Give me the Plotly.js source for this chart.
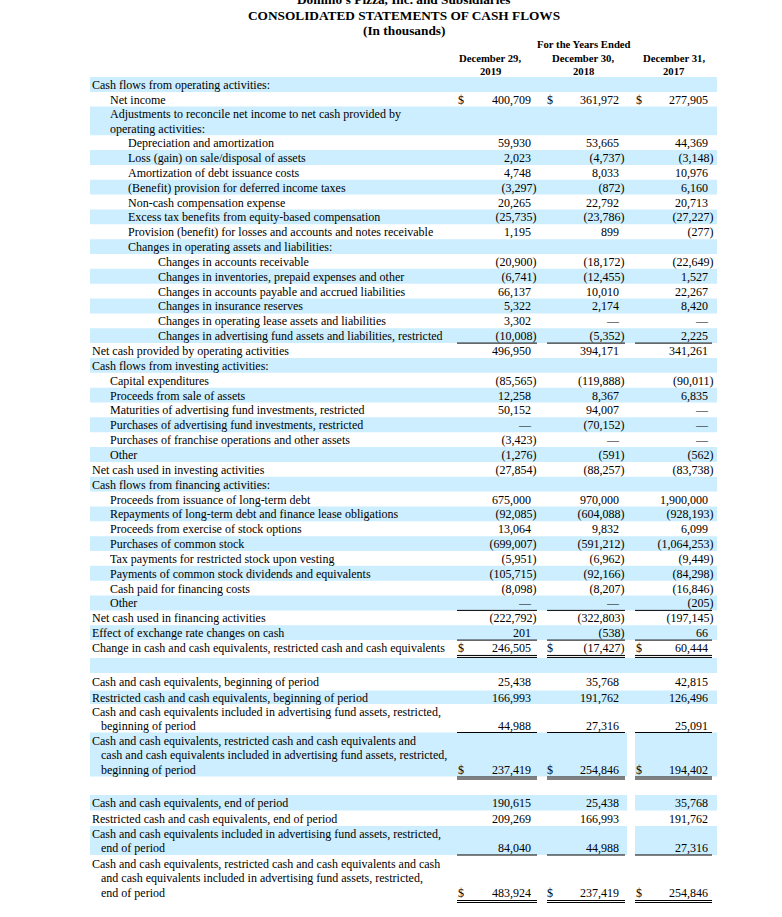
<!DOCTYPE html>
<html>
<head>
<meta charset="utf-8">
<script src="https://cdn.plot.ly/plotly-3.0.1.min.js"></script>
<style>html,body{margin:0;padding:0;background:#fff;}#chart{width:782px;height:917px;}</style>
</head>
<body>
<div id="chart"></div>
<script>
// ---------------- DATA ----------------
const companyLine = "Domino's Pizza, Inc. and Subsidiaries";
const titleText = "CONSOLIDATED STATEMENTS OF CASH FLOWS";
const unitsText = "(In thousands)";
const periodHeader = "For the Years Ended";
const headerMonth = ["December 29,", "December 30,", "December 31,"];
const headerYear = ["2019", "2018", "2017"];

const rowLabels = [
  ["Cash flows from operating activities:"],
  ["Net income"],
  ["Adjustments to reconcile net income to net cash provided by", "operating activities:"],
  ["Depreciation and amortization"],
  ["Loss (gain) on sale/disposal of assets"],
  ["Amortization of debt issuance costs"],
  ["(Benefit) provision for deferred income taxes"],
  ["Non-cash compensation expense"],
  ["Excess tax benefits from equity-based compensation"],
  ["Provision (benefit) for losses and accounts and notes receivable"],
  ["Changes in operating assets and liabilities:"],
  ["Changes in accounts receivable"],
  ["Changes in inventories, prepaid expenses and other"],
  ["Changes in accounts payable and accrued liabilities"],
  ["Changes in insurance reserves"],
  ["Changes in operating lease assets and liabilities"],
  ["Changes in advertising fund assets and liabilities, restricted"],
  ["Net cash provided by operating activities"],
  ["Cash flows from investing activities:"],
  ["Capital expenditures"],
  ["Proceeds from sale of assets"],
  ["Maturities of advertising fund investments, restricted"],
  ["Purchases of advertising fund investments, restricted"],
  ["Purchases of franchise operations and other assets"],
  ["Other"],
  ["Net cash used in investing activities"],
  ["Cash flows from financing activities:"],
  ["Proceeds from issuance of long-term debt"],
  ["Repayments of long-term debt and finance lease obligations"],
  ["Proceeds from exercise of stock options"],
  ["Purchases of common stock"],
  ["Tax payments for restricted stock upon vesting"],
  ["Payments of common stock dividends and equivalents"],
  ["Cash paid for financing costs"],
  ["Other"],
  ["Net cash used in financing activities"],
  ["Effect of exchange rate changes on cash"],
  ["Change in cash and cash equivalents, restricted cash and cash equivalents"],
  [""],
  ["Cash and cash equivalents, beginning of period"],
  ["Restricted cash and cash equivalents, beginning of period"],
  ["Cash and cash equivalents included in advertising fund assets, restricted,", "beginning of period"],
  ["Cash and cash equivalents, restricted cash and cash equivalents and", "cash and cash equivalents included in advertising fund assets, restricted,", "beginning of period"],
  [""],
  ["Cash and cash equivalents, end of period"],
  ["Restricted cash and cash equivalents, end of period"],
  ["Cash and cash equivalents included in advertising fund assets, restricted,", "end of period"],
  ["Cash and cash equivalents, restricted cash and cash equivalents and cash", "and cash equivalents included in advertising fund assets, restricted,", "end of period"]
];

// null = no value shown, 0 = shown as a dash
const fy2019 = [null, 400709, null, 59930, 2023, 4748, -3297, 20265, -25735, 1195, null,
  -20900, -6741, 66137, 5322, 3302, -10008, 496950, null,
  -85565, 12258, 50152, 0, -3423, -1276, -27854, null,
  675000, -92085, 13064, -699007, -5951, -105715, -8098, 0, -222792, 201, 246505, null,
  25438, 166993, 44988, 237419, null, 190615, 209269, 84040, 483924];
const fy2018 = [null, 361972, null, 53665, -4737, 8033, -872, 22792, -23786, 899, null,
  -18172, -12455, 10010, 2174, 0, -5352, 394171, null,
  -119888, 8367, 94007, -70152, 0, -591, -88257, null,
  970000, -604088, 9832, -591212, -6962, -92166, -8207, 0, -322803, -538, -17427, null,
  35768, 191762, 27316, 254846, null, 25438, 166993, 44988, 237419];
const fy2017 = [null, 277905, null, 44369, -3148, 10976, 6160, 20713, -27227, -277, null,
  -22649, 1527, 22267, 8420, 0, 2225, 341261, null,
  -90011, 6835, 0, 0, 0, -562, -83738, null,
  1900000, -928193, 6099, -1064253, -9449, -84298, -16846, -205, -197145, 66, 60444, null,
  42815, 126496, 25091, 194402, null, 35768, 191762, 27316, 254846];

// ---------------- LAYOUT / STYLE ----------------
const W = 782, H = 917;
const FONT = '"Liberation Serif", "Times New Roman", Times, serif';
const bodySize = 12;
const indentLevel = [0,1,1,2,2,2,2,2,2,2,2,3,3,3,3,3,3,0,0,1,1,1,1,1,1,0,0,1,1,1,1,1,1,1,1,0,0,0,0,0,0,0,0,0,0,0,0,0];
const indentX = [92, 110, 128, 158];
const contIndent = 9;           // extra indent for continuation lines of level-0 labels
const tableTop = 77;
const rowHeights = [15, 14.5, 28.7].concat(Array(35).fill(14.85))
  .concat([3.05 + 15, 17.5, 13.5, 28.5, 44, 2.5 + 16, 15.5, 15.5, 29, 45]);
const rowGapTop = {38: 3.05, 43: 2.5};   // unshaded spacing at top of these rows
const linePitch = 14.5;
const textShift = 1.5;
const bandX = [90, 717];
const splitBandRows = [42, 44, 46];
const splitGap = [627, 635];
const digitsEnd = [531, 619, 708];
const parenExtra = 5.5;
const dollarX = [458, 547, 636];
const ruleX = [[457, 537], [547, 625], [635, 712]];
const singleRuleRows = [16, 34, 36, 41, 46];
const doubleRuleRows = [37, 42, 47];
const dollarRows = [1, 37, 42, 47];
const bandColor = '#cceeff';
const ink = '#000000';

// compute row geometry
const rowTop = [], rowBottom = [];
let acc = tableTop;
rowHeights.forEach((h, i) => {
  const gap = rowGapTop[i] || 0;
  rowTop.push(acc + gap);
  acc += h;
  rowBottom.push(acc);
});

function fmt(v) {
  if (v === null) return '';
  if (v === 0) return '\u2014';
  const s = Math.abs(v).toLocaleString('en-US');
  return v < 0 ? '(' + s + ')' : s;
}

const shapes = [];
// bands
rowLabels.forEach((lab, i) => {
  if (i % 2 !== 0) return;
  const y0 = rowTop[i], y1 = rowBottom[i];
  const segs = splitBandRows.includes(i) ? [[bandX[0], splitGap[0]], [splitGap[1], bandX[1]]] : [bandX];
  segs.forEach(s => shapes.push({type: 'rect', xref: 'x', yref: 'y', x0: s[0], x1: s[1], y0: y0, y1: y1,
    fillcolor: bandColor, line: {width: 0}, layer: 'below'}));
});
// rules
singleRuleRows.forEach(i => ruleX.forEach(r => shapes.push({type: 'line', xref: 'x', yref: 'y',
  x0: r[0], x1: r[1], y0: rowBottom[i], y1: rowBottom[i], line: {color: ink, width: 1}})));
doubleRuleRows.forEach(i => ruleX.forEach(r => [0.5, 2.5].forEach(d => shapes.push({type: 'line', xref: 'x', yref: 'y',
  x0: r[0], x1: r[1], y0: rowBottom[i] + d, y1: rowBottom[i] + d, line: {color: ink, width: 1}}))));

// label trace
const lx = [], ly = [], lt = [];
const valueY = [];
rowLabels.forEach((lines, i) => {
  const c = (rowTop[i] + rowBottom[i]) / 2 + textShift;
  const n = lines.length;
  lines.forEach((t, k) => {
    const y = c + (k - (n - 1) / 2) * linePitch;
    let x = indentX[indentLevel[i]];
    if (k > 0 && indentLevel[i] === 0) x += contIndent;
    lx.push(x); ly.push(y); lt.push(t);
  });
  valueY.push(c + ((n - 1) / 2) * linePitch);
});

const textFont = {family: FONT, size: bodySize, color: ink};
const traces = [{
  type: 'scatter', mode: 'text', x: lx, y: ly, text: lt, textposition: 'middle right',
  textfont: textFont, marker: {size: 0}, hoverinfo: 'skip', showlegend: false, cliponaxis: false
}];

[fy2019, fy2018, fy2017].forEach((series, ci) => {
  const x = [], y = [], t = [];
  series.forEach((v, i) => {
    if (v === null) return;
    x.push(v < 0 ? digitsEnd[ci] + parenExtra : digitsEnd[ci]);
    y.push(valueY[i]);
    t.push(fmt(v));
  });
  traces.push({type: 'scatter', mode: 'text', x: x, y: y, text: t, textposition: 'middle left',
    textfont: textFont, marker: {size: 0}, hoverinfo: 'skip', showlegend: false, cliponaxis: false});
  // dollar signs
  const dx = [], dy = [], dt = [];
  dollarRows.forEach(i => { dx.push(dollarX[ci]); dy.push(valueY[i]); dt.push('$'); });
  traces.push({type: 'scatter', mode: 'text', x: dx, y: dy, text: dt, textposition: 'middle right',
    textfont: textFont, marker: {size: 0}, hoverinfo: 'skip', showlegend: false, cliponaxis: false});
});

const colCenters = [490, 583, 674];
const annotations = [
  {text: '<b>' + companyLine + '</b>', x: 404, y: 9, yanchor: 'bottom', font: {family: FONT, size: 13.3, color: ink}},
  {text: '<b>' + titleText + '</b>', x: 404, y: 15, font: {family: FONT, size: 13.3, color: ink}},
  {text: '<b>' + unitsText + '</b>', x: 404, y: 30, font: {family: FONT, size: 13.3, color: ink}},
  {text: '<b>' + periodHeader + '</b>', x: 584, y: 44, font: {family: FONT, size: 10.7, color: ink}}
];
headerMonth.forEach((m, i) => {
  annotations.push({text: '<b>' + m + '</b>', x: colCenters[i], y: 58, font: {family: FONT, size: 10.7, color: ink}});
  annotations.push({text: '<b>' + headerYear[i] + '</b>', x: colCenters[i], y: 71, font: {family: FONT, size: 10.7, color: ink}});
});
annotations.forEach(a => { a.xref = 'x'; a.yref = 'y'; a.showarrow = false; a.xanchor = 'center'; if (!a.yanchor) a.yanchor = 'middle'; });

const layout = {
  width: W, height: H,
  margin: {l: 0, r: 0, t: 0, b: 0, pad: 0},
  paper_bgcolor: '#ffffff', plot_bgcolor: '#ffffff',
  xaxis: {range: [0, W], visible: false, fixedrange: true},
  yaxis: {range: [H, 0], visible: false, fixedrange: true},
  shapes: shapes,
  annotations: annotations,
  showlegend: false
};

Plotly.newPlot('chart', traces, layout, {staticPlot: true, displayModeBar: false});
</script>
</body>
</html>
